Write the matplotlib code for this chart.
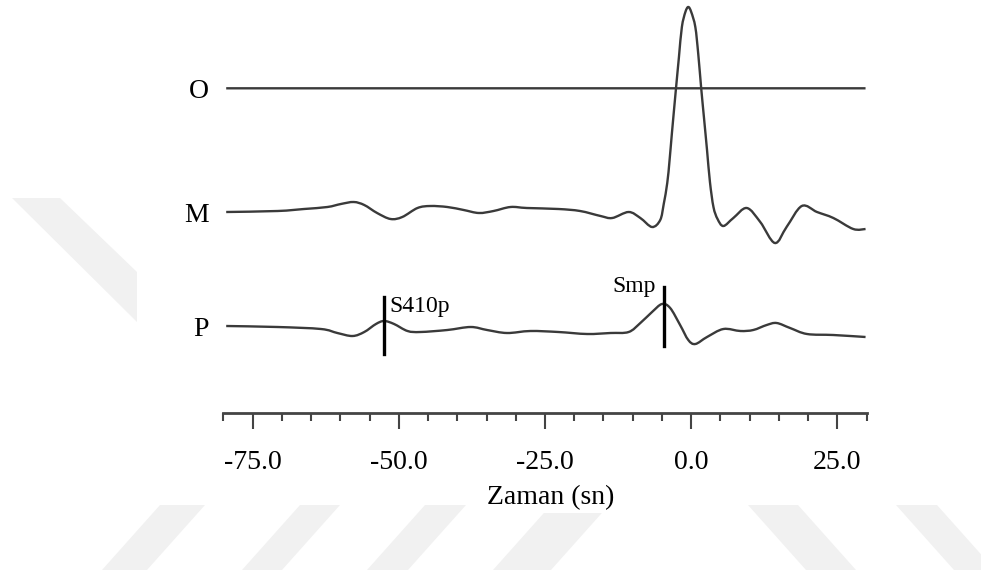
import matplotlib
matplotlib.use('Agg')
import matplotlib.pyplot as plt
from matplotlib.patches import Polygon, PathPatch
from matplotlib.path import Path
from matplotlib.ticker import MultipleLocator, FormatStrFormatter

plt.rcParams['font.family'] = ['Liberation Serif', 'DejaVu Serif']
plt.rcParams['axes.unicode_minus'] = False

# izler: zaman (sn) ve genlik
o_time = [-79.5, 29.8]
o_amp = [0.00, 0.00]

m_time = [-79.5, -70.7, -66.2, -62.2, -59.9, -57.7, -55.9, -53.7, -51.4, -49.4,
          -46.8, -44.6, -41.7, -38.9, -36.3, -33.8, -30.9, -28.1, -22.7, -19.0,
          -15.5, -13.5, -10.7, -8.7, -6.7, -5.3, -4.7, -4.1, -3.7, -3.3,
          -2.6, -2.1, -1.6, -1.0, -0.5, 0.0, 0.7, 1.2, 1.7, 2.2,
          2.7, 3.2, 3.8, 4.5, 5.5, 7.2, 9.5, 11.8, 14.3, 16.3,
          18.9, 21.5, 24.3, 27.7, 29.8]
m_amp = [0.00, 0.01, 0.03, 0.05, 0.08, 0.10, 0.07, -0.01, -0.07, -0.05,
         0.04, 0.06, 0.05, 0.02, -0.01, 0.01, 0.05, 0.04, 0.03, 0.01,
         -0.04, -0.06, 0.00, -0.06, -0.15, -0.08, 0.08, 0.29, 0.52, 0.79,
         1.24, 1.55, 1.85, 2.00, 2.05, 2.00, 1.85, 1.58, 1.24, 0.93,
         0.62, 0.30, 0.05, -0.07, -0.14, -0.06, 0.04, -0.10, -0.31, -0.15,
         0.06, 0.00, -0.06, -0.17, -0.17]

p_time = [-79.5, -70.7, -63.3, -60.5, -57.9, -55.9, -53.9, -52.5, -50.8, -48.5,
          -46.3, -41.7, -37.7, -34.9, -31.5, -27.5, -22.7, -17.8, -13.8, -10.7,
          -8.7, -6.7, -5.0, -3.6, -1.9, -0.5, 0.7, 2.7, 5.5, 8.4,
          10.6, 12.9, 14.6, 16.9, 19.8, 24.3, 29.8]
p_amp = [0.00, -0.01, -0.03, -0.07, -0.10, -0.06, 0.02, 0.05, 0.02, -0.05,
         -0.06, -0.04, -0.01, -0.04, -0.07, -0.05, -0.06, -0.08, -0.07, -0.06,
         0.03, 0.14, 0.22, 0.18, 0.01, -0.14, -0.18, -0.11, -0.03, -0.05,
         -0.04, 0.01, 0.03, -0.02, -0.08, -0.09, -0.11]

trace_labels = ['O', 'M', 'P']
trace_offsets = [3.25, 2.013, 0.873]

# faz isaretleri (P izi uzerinde)
phase_names = ['S410p', 'Smp']
phase_times = [-52.5, -4.7]


def smooth_path(xs, ys):
    # okunan noktalardan gecen Catmull-Rom egrisi (kubik Bezier olarak)
    pts = list(zip(xs, ys))
    verts = [pts[0]]
    codes = [Path.MOVETO]
    n = len(pts)
    for i in range(n - 1):
        p0 = pts[max(i - 1, 0)]
        p1 = pts[i]
        p2 = pts[i + 1]
        p3 = pts[min(i + 2, n - 1)]
        c1 = (p1[0] + (p2[0] - p0[0]) / 6, p1[1] + (p2[1] - p0[1]) / 6)
        c2 = (p2[0] - (p3[0] - p1[0]) / 6, p2[1] - (p3[1] - p1[1]) / 6)
        verts += [c1, c2, p2]
        codes += [Path.CURVE4] * 3
    return Path(verts, codes)


fig = plt.figure(figsize=(9.81, 5.70), dpi=100)

# arka plandaki soluk filigran seritleri (piksel koordinatlari)
stripes = [
    [(12, 198), (60, 198), (137, 272), (137, 322)],
    [(160, 505), (205, 505), (147, 570), (102, 570)],
    [(300, 505), (340, 505), (282, 570), (242, 570)],
    [(425, 505), (466, 505), (408, 570), (367, 570)],
    [(551, 505), (609, 505), (551, 570), (493, 570)],
    [(748, 505), (798, 505), (856, 570), (806, 570)],
    [(896, 505), (937, 505), (995, 570), (954, 570)],
]
for s in stripes:
    pts = [(x / 981, 1 - y / 570) for x, y in s]
    fig.add_artist(Polygon(pts, closed=True, transform=fig.transFigure,
                           facecolor='#f1f1f1', edgecolor='none', zorder=0))

ax = fig.add_axes([0.2276, 0.2749, 0.6559, 0.7251])
ax.patch.set_alpha(0)

trace_color = '#3a3a3a'
traces = [(o_time, o_amp), (m_time, m_amp), (p_time, p_amp)]
for (t, a), lab, off in zip(traces, trace_labels, trace_offsets):
    path = smooth_path(t, [v + off for v in a])
    ax.add_patch(PathPatch(path, fill=False, edgecolor=trace_color, lw=1.7))
    ax.text(-82.5, off - 0.03, lab, ha='right', va='center', fontsize=20,
            clip_on=False)

# faz cizgileri
p_off = trace_offsets[2]
ax.plot([phase_times[0]] * 2, [p_off - 0.28, p_off + 0.29], color='black', lw=2.4)
ax.plot([phase_times[1]] * 2, [p_off - 0.20, p_off + 0.39], color='black', lw=2.4)
ax.text(phase_times[0] + 0.9, 1.01, phase_names[0], ha='left', va='baseline', fontsize=17)
ax.text(phase_times[1] - 1.45, 1.217, phase_names[1], ha='right', va='baseline', fontsize=17)

ax.set_xlim(-80, 30)
ax.set_ylim(0, 4.133)
for sp in ['top', 'right', 'left']:
    ax.spines[sp].set_visible(False)
ax.spines['bottom'].set_color('#444444')
ax.spines['bottom'].set_linewidth(2)
ax.set_yticks([])
ax.set_xticks([-75, -50, -25, 0, 25])
ax.xaxis.set_minor_locator(MultipleLocator(5))
ax.xaxis.set_major_formatter(FormatStrFormatter('%.1f'))
ax.tick_params(axis='x', which='major', length=11.5, width=1.5, color='#444444',
               labelsize=20, pad=15)
ax.tick_params(axis='x', which='minor', length=6, width=1.5, color='#444444')
ax.set_xlabel('Zaman (sn)', fontsize=20, labelpad=7, x=0.509,
              bbox=dict(facecolor='white', edgecolor='none', pad=2))

plt.savefig('out.png', dpi=100)
